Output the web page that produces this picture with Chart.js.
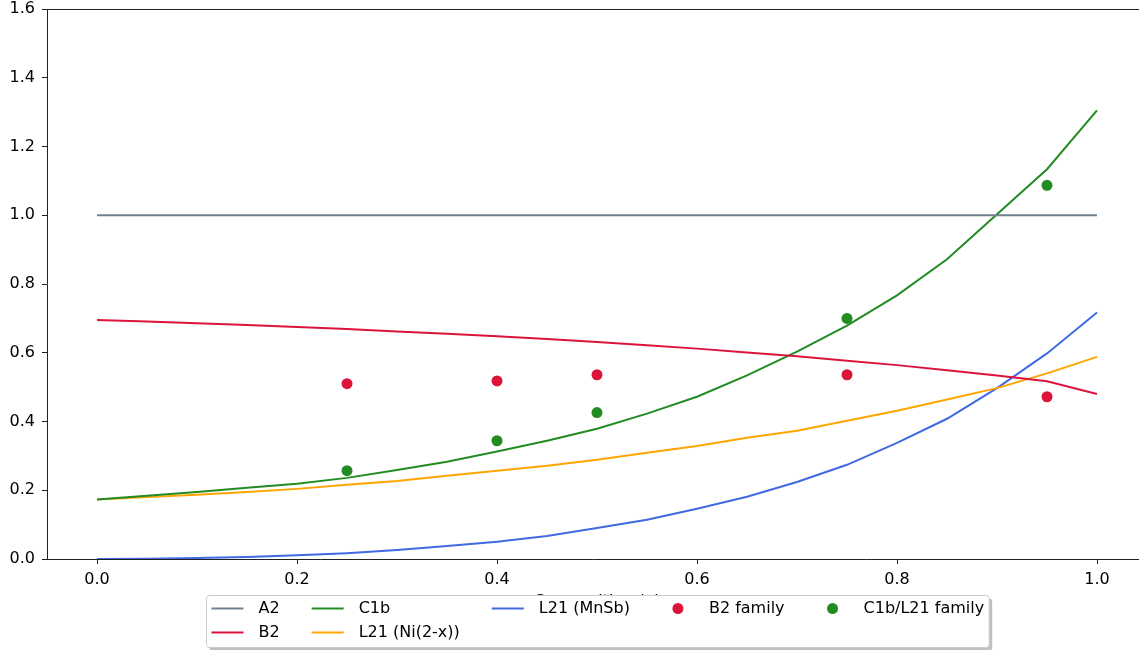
<!DOCTYPE html>
<html>
<head>
<meta charset="utf-8">
<script src="https://cdn.jsdelivr.net/npm/chart.js@4/dist/chart.umd.min.js"></script>
<style>
  html, body { margin: 0; padding: 0; background: #fff; }
  #wrap { width: 1139px; height: 650px; }
</style>
</head>
<body>
<div id="wrap"><canvas id="myChart" width="1139" height="650"></canvas></div>
<script>
// composition grid used by the model curves
var composition = [0, 0.05, 0.1, 0.15, 0.2, 0.25, 0.3, 0.35, 0.4, 0.45, 0.5,
                   0.55, 0.6, 0.65, 0.7, 0.75, 0.8, 0.85, 0.9, 0.95, 1.0]

var a2 = [1, 1, 1, 1, 1, 1, 1, 1, 1, 1, 1, 1, 1, 1, 1, 1, 1, 1, 1, 1, 1]
var b2 = [0.695, 0.691, 0.686, 0.681, 0.675, 0.669, 0.662, 0.655, 0.648, 0.640, 0.631,
          0.622, 0.612, 0.601, 0.590, 0.577, 0.564, 0.549, 0.534, 0.517, 0.480]
var c1b = [0.173, 0.184, 0.195, 0.207, 0.219, 0.236, 0.259, 0.283, 0.313, 0.344, 0.379,
           0.423, 0.472, 0.534, 0.603, 0.679, 0.767, 0.872, 1.003, 1.134, 1.305]
var l21Ni = [0.173, 0.180, 0.187, 0.195, 0.204, 0.216, 0.227, 0.242, 0.257, 0.271, 0.289,
             0.309, 0.329, 0.353, 0.373, 0.402, 0.431, 0.464, 0.497, 0.540, 0.588]
var l21MnSb = [0, 0.001, 0.003, 0.006, 0.011, 0.017, 0.026, 0.038, 0.050, 0.067, 0.090,
               0.114, 0.146, 0.181, 0.224, 0.274, 0.338, 0.408, 0.497, 0.598, 0.717]

// measured compounds
var b2FamX = [0.25, 0.4, 0.5, 0.75, 0.95]
var b2FamY = [0.510, 0.518, 0.536, 0.536, 0.472]
var c1bFamX = [0.25, 0.4, 0.5, 0.75, 0.95]
var c1bFamY = [0.257, 0.344, 0.426, 0.700, 1.087]

var xTicks = [0, 0.2, 0.4, 0.6, 0.8, 1.0]
var yTicks = [0, 0.2, 0.4, 0.6, 0.8, 1.0, 1.2, 1.4, 1.6]
var xTitle = 'Composition (x)'

var FONT = '"DejaVu Sans", sans-serif'
var FSIZE = 16

function pairs (xs, ys) {
  var out = []
  for (var i = 0; i < xs.length; i++) {
    out.push({x: xs[i], y: ys[i]})
  }
  return out
}

function curve (label, ys, color) {
  return {
    type: 'line',
    label: label,
    data: pairs(composition, ys),
    borderColor: color,
    backgroundColor: color,
    borderWidth: 2,
    pointRadius: 0,
    tension: 0,
    kind: 'line'
  }
}

function dots (label, xs, ys, color) {
  return {
    type: 'scatter',
    label: label,
    data: pairs(xs, ys),
    borderColor: color,
    backgroundColor: color,
    pointRadius: 5.5,
    borderWidth: 0,
    kind: 'dot'
  }
}

var datasets = [
  curve('A2', a2, '#708090'),
  curve('B2', b2, '#DC143C'),
  curve('C1b', c1b, '#228B22'),
  curve('L21 (Ni(2-x))', l21Ni, '#FFA500'),
  curve('L21 (MnSb)', l21MnSb, '#4169E1'),
  dots('B2 family', b2FamX, b2FamY, '#DC143C'),
  dots('C1b/L21 family', c1bFamX, c1bFamY, '#228B22')
]
datasets[5].order = -1
datasets[6].order = -2

// top spine, hidden x label and a matplotlib style legend (5 columns, filled column first)
var decor = {
  id: 'decor',
  afterDraw (chart) {
    var ctx = chart.ctx
    var area = chart.chartArea
    ctx.save()
    ctx.strokeStyle = '#222'
    ctx.lineWidth = 1
    ctx.beginPath()
    ctx.moveTo(area.left, area.top + 0.5)
    ctx.lineTo(area.right, area.top + 0.5)
    ctx.stroke()

    var xs = chart.scales.x
    ctx.font = FSIZE + 'px ' + FONT
    ctx.fillStyle = '#000'
    ctx.textAlign = 'center'
    ctx.textBaseline = 'top'
    ctx.fillText(xTitle, xs.getPixelForValue(0.5), 594)

    var ds = chart.data.datasets
    var ncol = 5
    var nrow = Math.ceil(ds.length / ncol)
    var extra = ds.length % ncol
    var cols = []
    var k = 0
    for (var c = 0; c < ncol; c++) {
      var n = (extra && c >= extra) ? nrow - 1 : nrow
      cols.push(ds.slice(k, k + n))
      k += n
    }
    var handle = 32, textPad = 15, colSpace = 32, pad = 5, rowH = 24
    var widths = cols.map(function (col) {
      var w = 0
      col.forEach(function (d) { w = Math.max(w, ctx.measureText(d.label).width) })
      return handle + textPad + w
    })
    var total = widths.reduce(function (a, b) { return a + b }, 0) + colSpace * (ncol - 1) + pad * 2
    var boxH = nrow * rowH + 4
    var left = Math.round(xs.getPixelForValue(0.5) - total / 2) + 0.5
    var top = 595.5

    function box (x, y, w, h, r) {
      ctx.beginPath()
      ctx.moveTo(x + r, y)
      ctx.lineTo(x + w - r, y)
      ctx.quadraticCurveTo(x + w, y, x + w, y + r)
      ctx.lineTo(x + w, y + h - r)
      ctx.quadraticCurveTo(x + w, y + h, x + w - r, y + h)
      ctx.lineTo(x + r, y + h)
      ctx.quadraticCurveTo(x, y + h, x, y + h - r)
      ctx.lineTo(x, y + r)
      ctx.quadraticCurveTo(x, y, x + r, y)
      ctx.closePath()
    }
    ctx.fillStyle = 'rgba(128,128,128,0.5)'
    box(left + 3, top + 3, total, boxH, 3)
    ctx.fill()
    ctx.fillStyle = '#fff'
    ctx.strokeStyle = '#cccccc'
    box(left, top, total, boxH, 3)
    ctx.fill()
    ctx.stroke()

    ctx.textAlign = 'left'
    ctx.textBaseline = 'middle'
    var cx = left + pad
    cols.forEach(function (col, ci) {
      col.forEach(function (d, ri) {
        var cy = top + 13 + ri * rowH
        if (d.kind === 'line') {
          ctx.strokeStyle = d.borderColor
          ctx.lineWidth = 2
          ctx.beginPath()
          ctx.moveTo(cx, cy)
          ctx.lineTo(cx + handle, cy)
          ctx.stroke()
        } else {
          ctx.fillStyle = d.backgroundColor
          ctx.beginPath()
          ctx.arc(cx + handle / 2, cy, 5.5, 0, Math.PI * 2)
          ctx.fill()
        }
        ctx.fillStyle = '#000'
        ctx.fillText(d.label, cx + handle + textPad, cy)
      })
      cx += widths[ci] + colSpace
    })
    ctx.restore()
  }
}

var ctx = document.getElementById('myChart').getContext('2d')
var chart = new Chart(ctx, {
  type: 'line',
  data: {datasets: datasets},
  plugins: [decor],
  options: {
    responsive: false,
    animation: false,
    layout: {autoPadding: false, padding: {top: 9, left: 0, right: 0, bottom: 0}},
    plugins: {legend: {display: false}, tooltip: {enabled: false}},
    scales: {
      x: {
        type: 'linear',
        min: -0.05,
        max: 1.042,
        afterBuildTicks (scale) { scale.ticks = xTicks.map(function (v) { return {value: v} }) },
        afterFit (scale) {
          scale.height = 91
          scale.paddingLeft = 0
          scale.paddingRight = 0
        },
        grid: {drawOnChartArea: false, drawTicks: true, tickLength: 5, color: '#222', tickWidth: 1},
        border: {display: true, color: '#222', width: 1},
        ticks: {
          padding: 6,
          color: '#000',
          font: {family: FONT, size: FSIZE},
          maxRotation: 0,
          callback (v) { return Number(v).toFixed(1) }
        }
      },
      y: {
        min: 0,
        max: 1.6,
        afterBuildTicks (scale) { scale.ticks = yTicks.map(function (v) { return {value: v} }) },
        afterFit (scale) {
          scale.width = 47
          scale.paddingTop = 0
          scale.paddingBottom = 0
        },
        grid: {drawOnChartArea: false, drawTicks: true, tickLength: 5, color: '#222', tickWidth: 1},
        border: {display: true, color: '#222', width: 1},
        ticks: {
          padding: 7,
          color: '#000',
          font: {family: FONT, size: FSIZE},
          callback (v) { return Number(v).toFixed(1) }
        }
      }
    }
  }
})
</script>
</body>
</html>
